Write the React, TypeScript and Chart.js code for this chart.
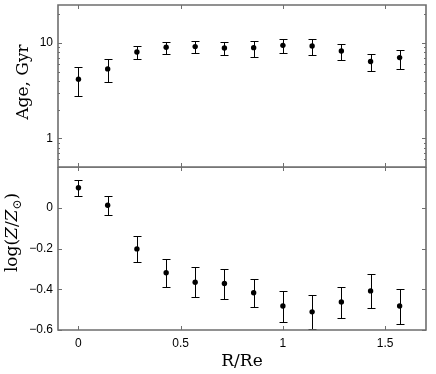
import React, { useEffect, useRef } from 'react';
import { Chart, registerables } from 'chart.js';
Chart.register(...registerables);

// ---- data ----
const R_RE = [0, 0.143, 0.286, 0.429, 0.571, 0.714, 0.857, 1.0, 1.143, 1.286, 1.429, 1.571];
const AGE = [4.17, 5.34, 8.04, 9.0, 9.15, 8.85, 8.93, 9.44, 9.29, 8.23, 6.38, 7.02];
const AGE_HI = [5.56, 6.85, 9.29, 10.2, 10.6, 10.2, 10.6, 11.0, 10.9, 9.74, 7.73, 8.51];
const AGE_LO = [2.79, 3.88, 6.79, 7.73, 7.84, 7.48, 7.19, 7.92, 7.55, 6.69, 5.05, 5.38];
const LOGZ = [0.098, 0.012, -0.202, -0.319, -0.366, -0.372, -0.417, -0.482, -0.511, -0.462, -0.408, -0.482];
const LOGZ_HI = [0.134, 0.057, -0.137, -0.25, -0.292, -0.299, -0.348, -0.407, -0.429, -0.387, -0.326, -0.397];
const LOGZ_LO = [0.059, -0.034, -0.266, -0.387, -0.439, -0.446, -0.485, -0.56, -0.593, -0.541, -0.492, -0.569];

const X_TICKS = [0, 0.5, 1, 1.5];
const AGE_MAJOR = [1, 10];
const AGE_MINOR = [0.5, 0.6, 0.7, 0.8, 0.9, 2, 3, 4, 5, 6, 7, 8, 9, 20];
const LOGZ_TICKS = [-0.6, -0.4, -0.2, 0];

const X_MIN = -0.1, X_MAX = 1.7;
const AGE_MIN = 0.5, AGE_MAX = 25;
const LOGZ_MIN = -0.6, LOGZ_MAX = 0.2;

const TICK_FONT = { family: '"Liberation Sans", Arial, sans-serif', size: 12 };
const SERIF = '"DejaVu Serif", serif';
const FRAME = '#6e6e6e';

function fmt(v: number) {
  const s = String(Math.round(v * 10) / 10);
  return s.replace('-', '\u2212');
}

function errorBarPlugin(lo: number[], hi: number[]) {
  return {
    id: 'errbars',
    beforeDatasetsDraw(chart: any) {
      const { ctx, chartArea } = chart;
      const xs = chart.scales.x, ys = chart.scales.y;
      ctx.save();
      ctx.beginPath();
      ctx.rect(chartArea.left, chartArea.top, chartArea.right - chartArea.left, chartArea.bottom - chartArea.top);
      ctx.clip();
      ctx.strokeStyle = '#000';
      ctx.lineWidth = 1;
      ctx.beginPath();
      for (let i = 0; i < R_RE.length; i++) {
        const x = Math.round(xs.getPixelForValue(R_RE[i])) + 0.5;
        const y1 = Math.round(ys.getPixelForValue(hi[i])) + 0.5;
        const y2 = Math.round(ys.getPixelForValue(lo[i])) + 0.5;
        ctx.moveTo(x, y1); ctx.lineTo(x, y2);
        ctx.moveTo(x - 4, y1); ctx.lineTo(x + 4, y1);
        ctx.moveTo(x - 4, y2); ctx.lineTo(x + 4, y2);
      }
      ctx.stroke();
      ctx.restore();
    },
  };
}

function framePlugin(yMajor: number[], yMinor: number[]) {
  return {
    id: 'frame',
    afterDraw(chart: any) {
      const { ctx, chartArea } = chart;
      const xs = chart.scales.x, ys = chart.scales.y;
      const L = Math.round(chartArea.left);
      const Rr = Math.round(chartArea.right);
      const T = Math.round(chartArea.top);
      const B = Math.round(chartArea.bottom);
      ctx.save();
      ctx.strokeStyle = FRAME;
      ctx.lineWidth = 1.6;
      ctx.beginPath();
      ctx.moveTo(L, T); ctx.lineTo(Rr, T); ctx.lineTo(Rr, B); ctx.lineTo(L, B); ctx.closePath();
      ctx.stroke();
      ctx.lineWidth = 1;
      ctx.beginPath();
      for (const v of X_TICKS) {
        const x = Math.round(xs.getPixelForValue(v)) + 0.5;
        ctx.moveTo(x, B); ctx.lineTo(x, B - 4);
        ctx.moveTo(x, T); ctx.lineTo(x, T + 4);
      }
      for (const v of yMajor) {
        const y = Math.round(ys.getPixelForValue(v)) + 0.5;
        ctx.moveTo(L, y); ctx.lineTo(L + 4, y);
        ctx.moveTo(Rr, y); ctx.lineTo(Rr - 4, y);
      }
      for (const v of yMinor) {
        const y = Math.round(ys.getPixelForValue(v)) + 0.5;
        ctx.moveTo(L, y); ctx.lineTo(L + 2, y);
        ctx.moveTo(Rr, y); ctx.lineTo(Rr - 2, y);
      }
      ctx.stroke();
      ctx.restore();
    },
  };
}

type Piece = { t: string; italic?: boolean; sub?: boolean };

function titlePlugin(draw: (ctx: CanvasRenderingContext2D, chart: any) => void) {
  return { id: 'titles', afterDraw(chart: any) { const ctx = chart.ctx; ctx.save(); draw(ctx, chart); ctx.restore(); } };
}

function drawPieces(ctx: CanvasRenderingContext2D, pieces: Piece[], size: number) {
  const fontFor = (p: Piece) => `${p.italic ? 'italic ' : ''}${p.sub ? Math.round(size * 0.72) : size}px ${SERIF}`;
  let total = 0;
  const widths = pieces.map((p) => { ctx.font = fontFor(p); const w = ctx.measureText(p.t).width; total += w; return w; });
  let x = -total / 2;
  ctx.fillStyle = '#000';
  ctx.textBaseline = 'alphabetic';
  ctx.textAlign = 'left';
  pieces.forEach((p, i) => {
    ctx.font = fontFor(p);
    ctx.fillText(p.t, x, p.sub ? 4 : 0);
    x += widths[i];
  });
}

const baseOptions = (yScale: any, xScale: any, padding: any) => ({
  responsive: false,
  animation: false,
  devicePixelRatio: 1,
  events: [],
  layout: { padding, autoPadding: false },
  plugins: { legend: { display: false }, tooltip: { enabled: false } },
  scales: { x: xScale, y: yScale },
});

export default function App() {
  const topRef = useRef<HTMLCanvasElement>(null);
  const botRef = useRef<HTMLCanvasElement>(null);

  useEffect(() => {
    const dsStyle = { pointRadius: 2.7, pointBackgroundColor: '#000', pointBorderWidth: 0, showLine: false };
    const top = new Chart(topRef.current!, {
      type: 'scatter',
      data: { datasets: [{ data: R_RE.map((x, i) => ({ x, y: AGE[i] })), ...dsStyle }] },
      options: baseOptions(
        {
          type: 'logarithmic', min: AGE_MIN, max: AGE_MAX,
          afterFit: (s: any) => { s.width = 58; s.paddingTop = 0; s.paddingBottom = 0; },
          afterBuildTicks: (s: any) => { s.ticks = AGE_MAJOR.map((v) => ({ value: v })); },
          grid: { display: false, drawTicks: false }, border: { display: false },
          ticks: { font: TICK_FONT, color: '#000', padding: 5, callback: (v: any) => String(v) },
        },
        { type: 'linear', min: X_MIN, max: X_MAX, display: false },
        { left: 0, right: 10, top: 5, bottom: 1 }
      ) as any,
      plugins: [
        errorBarPlugin(AGE_LO, AGE_HI),
        framePlugin(AGE_MAJOR, AGE_MINOR),
        titlePlugin((ctx) => {
          ctx.translate(28, 82);
          ctx.rotate(-Math.PI / 2);
          drawPieces(ctx, [{ t: 'Age, Gyr' }], 17);
        }),
      ],
    });
    const bot = new Chart(botRef.current!, {
      type: 'scatter',
      data: { datasets: [{ data: R_RE.map((x, i) => ({ x, y: LOGZ[i] })), ...dsStyle }] },
      options: baseOptions(
        {
          type: 'linear', min: LOGZ_MIN, max: LOGZ_MAX,
          afterFit: (s: any) => { s.width = 58; s.paddingTop = 0; s.paddingBottom = 0; },
          afterBuildTicks: (s: any) => { s.ticks = LOGZ_TICKS.map((v) => ({ value: v })); },
          grid: { display: false, drawTicks: false }, border: { display: false },
          ticks: { font: TICK_FONT, color: '#000', padding: 5, callback: (v: any) => fmt(v) },
        },
        {
          type: 'linear', min: X_MIN, max: X_MAX,
          afterFit: (s: any) => { s.height = 44; s.paddingLeft = 0; s.paddingRight = 0; },
          afterBuildTicks: (s: any) => { s.ticks = X_TICKS.map((v) => ({ value: v })); },
          grid: { display: false, drawTicks: false }, border: { display: false },
          ticks: { font: TICK_FONT, color: '#000', padding: 6, maxRotation: 0, callback: (v: any) => fmt(v) },
        },
        { left: 0, right: 10, top: 0, bottom: 0 }
      ) as any,
      plugins: [
        errorBarPlugin(LOGZ_LO, LOGZ_HI),
        framePlugin(LOGZ_TICKS, []),
        titlePlugin((ctx, chart) => {
          const ca = chart.chartArea;
          ctx.save();
          ctx.translate(17, 65.5);
          ctx.rotate(-Math.PI / 2);
          drawPieces(ctx, [{ t: 'log(' }, { t: 'Z', italic: true }, { t: '/' }, { t: 'Z', italic: true }, { t: '\u2299', sub: true }, { t: ')' }], 17);
          ctx.restore();
          ctx.translate((ca.left + ca.right) / 2, 199);
          drawPieces(ctx, [{ t: 'R/Re' }], 17);
        }),
      ],
    });
    return () => { top.destroy(); bot.destroy(); };
  }, []);

  return (
    <div style={{ position: 'absolute', left: 0, top: 0, width: 436, height: 374, background: '#fff' }}>
      <canvas ref={topRef} width={436} height={168} style={{ position: 'absolute', left: 0, top: 0, width: 436, height: 168 }} />
      <canvas ref={botRef} width={436} height={207} style={{ position: 'absolute', left: 0, top: 167, width: 436, height: 207 }} />
    </div>
  );
}
